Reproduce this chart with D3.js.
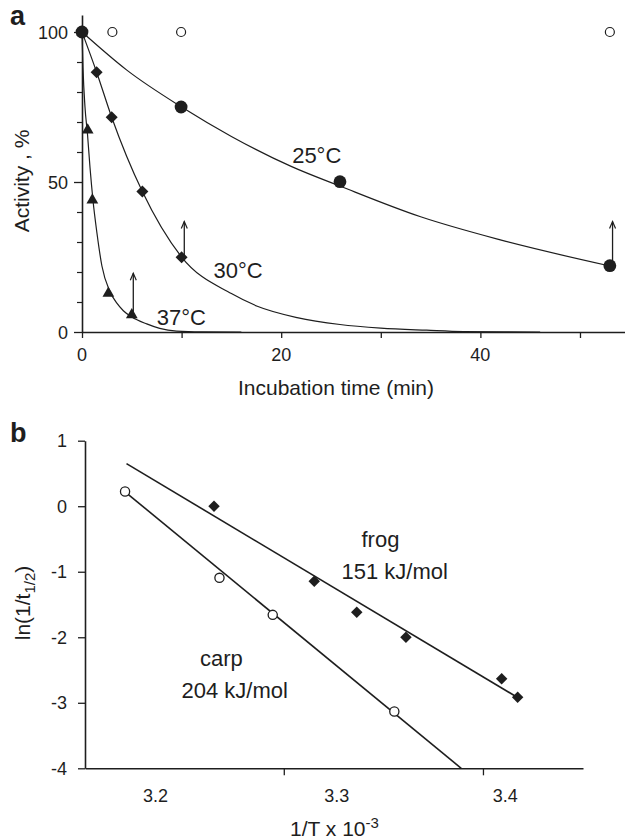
<!DOCTYPE html>
<html><head><meta charset="utf-8">
<script src="https://cdnjs.cloudflare.com/ajax/libs/d3/7.8.5/d3.min.js"></script>
<style>
html,body{margin:0;padding:0;background:#fff;}
svg{display:block;font-family:"Liberation Sans",Arial,Helvetica,sans-serif;}
</style></head>
<body>
<svg id="chart" width="625" height="839"></svg>
<script>
// ---------- Panel a data ----------
const tri37 = [[0,100],[0.57,67.3],[1.04,44],[2.65,12.9],[5.0,5.7]];
const dia30 = [[0,100],[1.47,86.6],[2.98,71.6],[6.06,46.8],[10.0,24.9]];
const dot25 = [[0,100],[9.95,75],[25.9,50.1],[53.0,22.1]];
const open25 = [[0,100],[3.05,100],[9.95,100],[53.0,100]];
const curve25 = [[0,100],[4.5,87.3],[10,75],[15,65.2],[21,55.2],[26,48.5],[34,38.4],[42,30.7],[53,22]];
const curve30 = [[0,100],[1.47,86.6],[2.98,71.6],[6.06,46.8],[10,25],[15,12.8],[17.6,8.6],[21.6,4.8],[25.9,2.5],[30,1.3],[34.6,0.6],[38.3,0.15],[46,0]];
const curve37 = [[0,100],[0.1,88],[0.3,75],[0.55,66],[0.8,55],[1.1,44],[1.5,33],[2.0,22],[2.8,13.5],[3.5,9.6],[4.15,7.1],[5,5],[6.5,2.7],[7.8,1.2],[9.5,0.3],[12,0.05],[16,0]];
const arrowsA = [{t:5.15,from:5.7,to:19.6},{t:10.27,from:24.9,to:36.8},{t:53.27,from:22.1,to:36.8}];
const labelsA = [{text:"25°C",t:21.1,v:56.5},{text:"30°C",t:13.2,v:18},{text:"37°C",t:7.5,v:2.5}];
const xTicksA = [0,10,20,30,40,50];
const xLabelsA = [0,20,40];
const yMajorA = [0,50,100];
const yMinorA = [10,20,30,40,60,70,80,90];

// ---------- Panel b data ----------
const carpX = [3.1832,3.2353,3.2647,3.3342];
const carpY = [0.224,-1.093,-1.658,-3.134];
const frogX = [3.2323,3.2876,3.3119,3.3411,3.3979,3.4074];
const frogY = [0.0,-1.145,-1.62,-2.0,-2.635,-2.916];
const frogFit = [[3.1840,0.65],[3.4074,-2.92]];
const carpFit = [[3.1832,0.22],[3.3739,-4.0]];
const xTickMarksB = [3.2708,3.3868];
const xTickLabelsB = [3.2,3.3,3.4];
const yTicksB = [1,0,-1,-2,-3,-4];

const ink = "#1e1e1e";
const svg = d3.select("#chart");

// ===== Panel a =====
const xA = d3.scaleLinear().domain([0,54.6]).range([82,625.8]);
const yA = d3.scaleLinear().domain([0,105.67]).range([332,15]);
const gA = svg.append("g");

gA.append("g").attr("transform","translate(0,332)")
  .call(d3.axisBottom(xA).tickValues(xTicksA).tickFormat("").tickSize(6).tickSizeOuter(0))
  .call(g=>{g.select(".domain").attr("stroke",ink).attr("stroke-width",1.6);g.selectAll(".tick line").attr("stroke",ink).attr("stroke-width",1.3);});
gA.append("g").attr("transform","translate(82,0)")
  .call(d3.axisLeft(yA).tickValues(yMajorA).tickFormat("").tickSize(8).tickSizeOuter(0))
  .call(g=>{g.select(".domain").attr("stroke",ink).attr("stroke-width",1.6);g.selectAll(".tick line").attr("stroke",ink).attr("stroke-width",1.3);});
gA.append("g").attr("transform","translate(82,0)")
  .call(d3.axisLeft(yA).tickValues(yMinorA).tickFormat("").tickSize(5).tickSizeOuter(0))
  .call(g=>{g.select(".domain").remove();g.selectAll(".tick line").attr("stroke",ink).attr("stroke-width",1.2);});

gA.selectAll("text.ya").data(yMajorA).enter().append("text")
  .attr("x",68).attr("y",d=>yA(d)+6.5).attr("text-anchor","end")
  .attr("font-size",18).attr("fill",ink).text(d=>d);
gA.selectAll("text.xa").data(xLabelsA).enter().append("text")
  .attr("x",d=>xA(d)).attr("y",361).attr("text-anchor","middle")
  .attr("font-size",18).attr("fill",ink).text(d=>d);

gA.append("text").attr("x",336).attr("y",395).attr("text-anchor","middle")
  .attr("font-size",21).attr("fill",ink).text("Incubation time (min)");
gA.append("text").attr("transform","translate(29,181) rotate(-90)").attr("text-anchor","middle")
  .attr("font-size",21).attr("fill",ink).text("Activity , %");
svg.append("text").attr("x",10).attr("y",25).attr("font-size",27).attr("font-weight","bold").attr("fill",ink).text("a");

const lineA = d3.line().x(d=>xA(d[0])).y(d=>yA(d[1])).curve(d3.curveMonotoneX);
[curve25,curve30,curve37].forEach(c=>{
  gA.append("path").attr("d",lineA(c)).attr("fill","none").attr("stroke",ink).attr("stroke-width",1.2);
});

// arrows
arrowsA.forEach(a=>{
  const x=xA(a.t), y0=yA(a.from), y1=yA(a.to);
  gA.append("line").attr("x1",x).attr("x2",x).attr("y1",y0).attr("y2",y1).attr("stroke",ink).attr("stroke-width",1.3);
  gA.append("path").attr("d",`M${x-3},${y1+7}L${x},${y1}L${x+3},${y1+7}`).attr("fill","none").attr("stroke",ink).attr("stroke-width",1.2);
});

// markers
gA.selectAll("path.tri").data(tri37).enter().append("path")
  .attr("d",d3.symbol(d3.symbolTriangle,60)).attr("transform",d=>`translate(${xA(d[0])},${yA(d[1])})`).attr("fill",ink);
gA.selectAll("path.dia").data(dia30).enter().append("path")
  .attr("d",d3.symbol(d3.symbolSquare,72)).attr("transform",d=>`translate(${xA(d[0])},${yA(d[1])}) rotate(45)`).attr("fill",ink);
gA.selectAll("circle.op").data(open25).enter().append("circle")
  .attr("cx",d=>xA(d[0])).attr("cy",d=>yA(d[1])).attr("r",4.5).attr("fill","#fff").attr("stroke",ink).attr("stroke-width",1.2);
gA.selectAll("circle.fd").data(dot25).enter().append("circle")
  .attr("cx",d=>xA(d[0])).attr("cy",d=>yA(d[1])).attr("r",6.4).attr("fill",ink);

gA.selectAll("text.lab").data(labelsA).enter().append("text")
  .attr("x",d=>xA(d.t)).attr("y",d=>yA(d.v)).attr("font-size",22).attr("fill",ink).text(d=>d.text);

// ===== Panel b =====
const xB = d3.scaleLinear().domain([3.1611,3.2,3.3,3.4,3.4462]).range([85,155.5,336.7,505.2,583]);
const yB = d3.scaleLinear().domain([-4,1]).range([768.3,440.7]);
const gB = svg.append("g");

gB.append("g").attr("transform","translate(0,768.3)")
  .call(d3.axisBottom(xB).tickValues(xTickMarksB).tickFormat("").tickSize(7).tickSizeOuter(0))
  .call(g=>{g.select(".domain").attr("stroke",ink).attr("stroke-width",1.6);g.selectAll(".tick line").attr("stroke",ink).attr("stroke-width",1.3);});
gB.append("g").attr("transform","translate(85,0)")
  .call(d3.axisLeft(yB).tickValues(yTicksB).tickFormat("").tickSize(7).tickSizeOuter(0))
  .call(g=>{g.select(".domain").attr("stroke",ink).attr("stroke-width",1.6);g.selectAll(".tick line").attr("stroke",ink).attr("stroke-width",1.3);});

gB.selectAll("text.yb").data(yTicksB).enter().append("text")
  .attr("x",67).attr("y",d=>yB(d)+6.5).attr("text-anchor","end")
  .attr("font-size",18).attr("fill",ink).text(d=>d);
gB.selectAll("text.xb").data(xTickLabelsB).enter().append("text")
  .attr("x",d=>xB(d)).attr("y",801.5).attr("text-anchor","middle")
  .attr("font-size",18).attr("fill",ink).text(d=>d.toFixed(1));

const xt = gB.append("text").attr("x",290).attr("y",835.5).attr("font-size",21).attr("fill",ink);
xt.append("tspan").text("1/T x 10");
xt.append("tspan").attr("dy",-8).attr("font-size",15).text("-3");

const yt = gB.append("text").attr("transform","translate(30,603) rotate(-90)").attr("text-anchor","middle")
  .attr("font-size",21).attr("fill",ink);
yt.append("tspan").text("ln(1/t");
yt.append("tspan").attr("dy",5).attr("font-size",15).text("1/2");
yt.append("tspan").attr("dy",-5).text(")");
svg.append("text").attr("x",10).attr("y",441.7).attr("font-size",27).attr("font-weight","bold").attr("fill",ink).text("b");

const lineB = d3.line().x(d=>xB(d[0])).y(d=>yB(d[1]));
[frogFit,carpFit].forEach(f=>{
  gB.append("path").attr("d",lineB(f)).attr("fill","none").attr("stroke",ink).attr("stroke-width",1.6);
});

gB.selectAll("path.fr").data(frogX).enter().append("path")
  .attr("d",d3.symbol(d3.symbolSquare,66)).attr("transform",(d,i)=>`translate(${xB(d)},${yB(frogY[i])}) rotate(45)`).attr("fill",ink);
gB.selectAll("circle.cp").data(carpX).enter().append("circle")
  .attr("cx",d=>xB(d)).attr("cy",(d,i)=>yB(carpY[i])).attr("r",4.6).attr("fill","#fff").attr("stroke",ink).attr("stroke-width",1.3);

gB.append("text").attr("x",361.5).attr("y",547).attr("font-size",22).attr("fill",ink).text("frog");
gB.append("text").attr("x",341.5).attr("y",579).attr("font-size",22).attr("fill",ink).text("151 kJ/mol");
gB.append("text").attr("x",200).attr("y",666).attr("font-size",22).attr("fill",ink).text("carp");
gB.append("text").attr("x",181.5).attr("y",698).attr("font-size",22).attr("fill",ink).text("204 kJ/mol");
</script>
</body></html>
